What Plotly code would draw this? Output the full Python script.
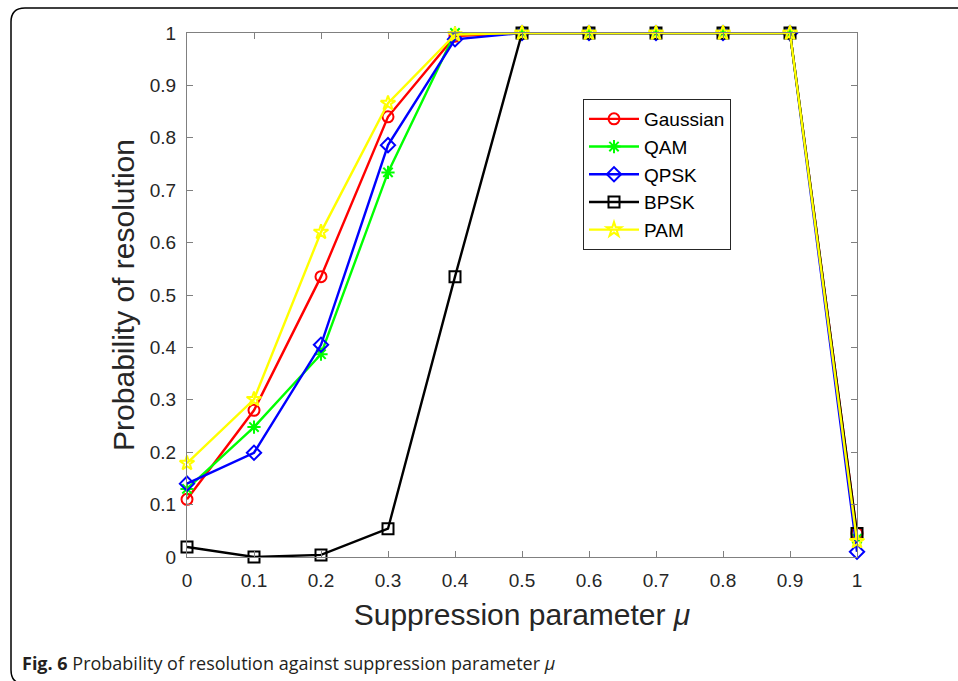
import plotly.graph_objects as go

mu = [0, 0.1, 0.2, 0.3, 0.4, 0.5, 0.6, 0.7, 0.8, 0.9, 1.0]
gaussian = [0.11, 0.28, 0.535, 0.84, 0.994, 1, 1, 1, 1, 1, 0.045]
qam = [0.13, 0.248, 0.387, 0.734, 1.0, 1, 1, 1, 1, 1, 0.035]
qpsk = [0.14, 0.199, 0.405, 0.786, 0.988, 1, 1, 1, 1, 1, 0.01]
bpsk = [0.019, 0.0, 0.004, 0.054, 0.535, 1, 1, 1, 1, 1, 0.045]
pam = [0.179, 0.301, 0.62, 0.866, 0.997, 1, 1, 1, 1, 1, 0.03]
tick_text = ["0", "0.1", "0.2", "0.3", "0.4", "0.5", "0.6", "0.7", "0.8", "0.9", "1"]

series = [
    ("Gaussian", gaussian, "#FF0000", "circle-open"),
    ("QAM", qam, "#00FF00", "asterisk-open"),
    ("QPSK", qpsk, "#0000FF", "diamond-open"),
    ("BPSK", bpsk, "#000000", "square-open"),
    ("PAM", pam, "#FFFF00", "star-open"),
]

fig = go.Figure()
for name, vals, col, sym in series:
    fig.add_trace(go.Scatter(
        x=mu, y=vals, name=name, mode="lines+markers", cliponaxis=False,
        line=dict(color=col, width=2.4),
        marker=dict(symbol=sym, size=11, color=col, line=dict(color=col, width=2)),
    ))

L, R, T, B = 187, 857, 33, 557
W, H = 958, 681
pw, ph = R - L, B - T

def px(x):
    return (x - L) / pw

def py(y):
    return (B - y) / ph

# rounded outer frame
x0, x1 = px(11), px(975)
yt, yb = py(8), py(684)
rx, ry = 14 / pw, 14 / ph
path = (f"M {x1},{yt} L {x0+rx},{yt} Q {x0},{yt} {x0},{yt-ry} "
        f"L {x0},{yb+ry} Q {x0},{yb} {x0+rx},{yb} L {x1},{yb}")

axis_common = dict(
    showline=True, linecolor="#808080", linewidth=1, mirror="ticks",
    ticks="inside", ticklen=6, tickcolor="#808080", showgrid=False, zeroline=False,
    ticklabelstandoff=6,
    tickfont=dict(family="Liberation Sans, Arial", size=19, color="#262626"),
)

fig.update_layout(
    width=W, height=H,
    margin=dict(l=L, r=W - R, t=T, b=H - B),
    paper_bgcolor="white", plot_bgcolor="white",
    xaxis=dict(range=[0, 1], tickvals=mu, ticktext=tick_text,
               title=dict(text="Suppression parameter <i>μ</i>", standoff=14,
                          font=dict(family="Liberation Sans, Arial", size=30, color="#262626")),
               **axis_common),
    yaxis=dict(range=[0, 1], tickvals=mu, ticktext=tick_text,
               title=dict(text="Probability of resolution", standoff=6,
                          font=dict(family="Liberation Sans, Arial", size=30, color="#262626")),
               **axis_common),
    legend=dict(x=px(583), y=py(99), xanchor="left", yanchor="top",
                bgcolor="white", bordercolor="#262626", borderwidth=1,
                font=dict(family="Liberation Sans, Arial", size=19, color="#000000"),
                itemwidth=50, tracegroupgap=0),
    shapes=[dict(type="path", path=path, xref="paper", yref="paper",
                 line=dict(color="#000000", width=1.5), layer="above")],
    annotations=[dict(
        text="<b>Fig. 6</b> Probability of resolution against suppression parameter <i>μ</i>",
        xref="paper", yref="paper", x=px(20), y=py(663), xanchor="left", yanchor="middle",
        showarrow=False, font=dict(family="Open Sans, Noto Sans", size=18, color="#231F20"))],
)

fig.write_html("out.html")
